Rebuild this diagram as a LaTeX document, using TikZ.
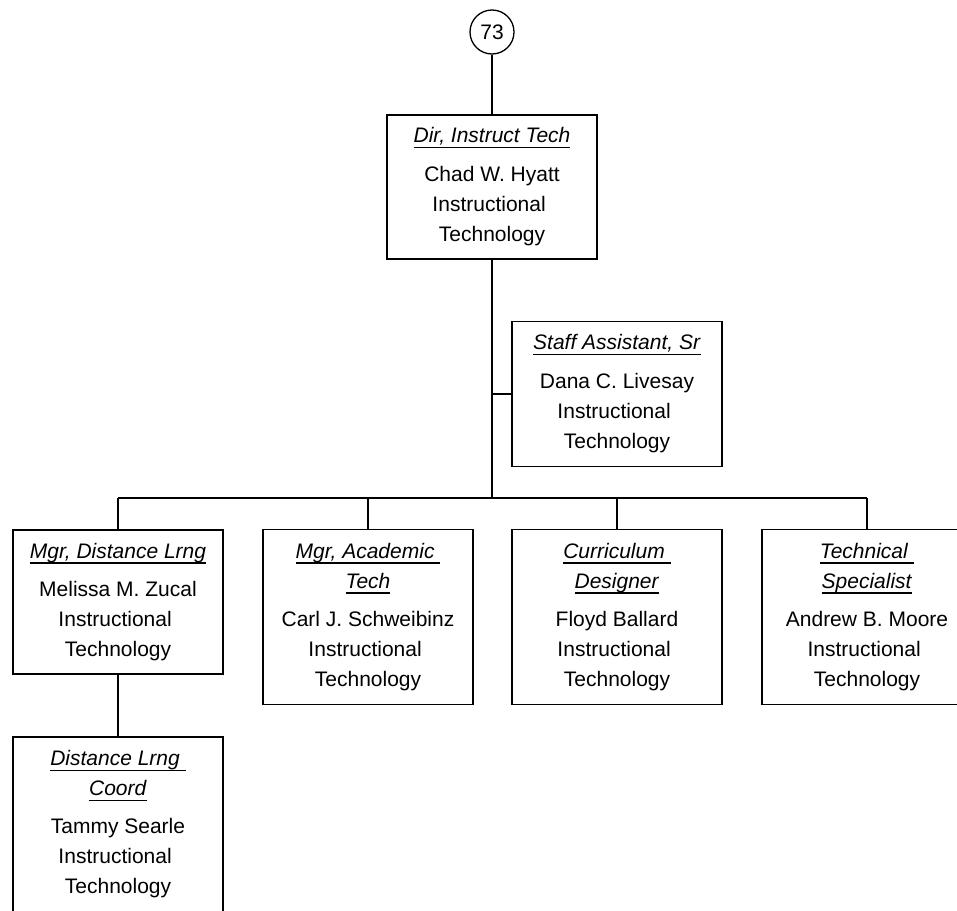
\documentclass[tikz,border=0pt]{standalone}
\usepackage{fontspec}
\setmainfont{Liberation Sans}
\begin{document}
\begin{tikzpicture}[x=1pt,y=-1pt,
  line width=1.3pt,
  box/.style={draw, rectangle, inner sep=0pt, minimum width=210pt, align=center,
    font=\fontsize{21}{30}\selectfont},
  circ/.style={draw, circle, inner sep=0pt, minimum size=44pt, font=\fontsize{21}{25}\selectfont},
  wire/.style={line width=1.3pt}]
\newcommand{\ttl}[1]{\leavevmode\setbox0\hbox{\textit{#1}}\rlap{\rule[-5.2pt]{\wd0}{1.2pt}}\box0}
\useasboundingbox (0,0) rectangle (957,910);
\clip (0,0) rectangle (957,910);
\node[circ] (c73) at (492,32) {73};
\node[box, minimum height=144pt] (tb) at (492,187)
  {\ttl{Dir, Instruct Tech}\\[9pt]Chad W. Hyatt\\Instructional\kern5.8pt\\Technology};
\node[box, minimum height=145pt] (sa) at (617,394)
  {\ttl{Staff Assistant, Sr}\\[9pt]Dana C. Livesay\\Instructional\kern5.8pt\\Technology};
\node[box, minimum height=144pt] (b1) at (118,602)
  {\ttl{Mgr, Distance Lrng}\\[8pt]Melissa M. Zucal\\Instructional\kern5.8pt\\Technology};
\node[box, minimum height=175pt] (b2) at (368,617)
  {\ttl{Mgr, Academic\ }\\\ttl{Tech}\\[8pt]Carl J. Schweibinz\\Instructional\kern5.8pt\\Technology};
\node[box, minimum height=175pt] (b3) at (617,617)
  {\ttl{Curriculum\ }\\\ttl{Designer}\\[8pt]Floyd Ballard\\Instructional\kern5.8pt\\Technology};
\node[box, minimum height=175pt] (b4) at (867,617)
  {\ttl{Technical\ }\\\ttl{Specialist}\\[8pt]Andrew B. Moore\\Instructional\kern5.8pt\\Technology};
\node[box, minimum height=175pt] (b5) at (118,824.5)
  {\ttl{Distance Lrng\ }\\\ttl{Coord}\\[8pt]Tammy Searle\\Instructional\kern5.8pt\\Technology};
\coordinate (bus) at (492,498);
\coordinate (sj) at (492,394);
\draw[wire] (c73.south) -- (tb.north);
\draw[wire] (tb.south) -- (bus);
\draw[wire] (sj) -- (sa.west);
\draw[wire] (bus -| b1.north) -- (bus -| b4.north);
\foreach \b in {b1,b2,b3,b4}{\draw[wire] (bus -| \b.north) -- (\b.north);}
\draw[wire] (b1.south) -- (b5.north);
\end{tikzpicture}
\end{document}
